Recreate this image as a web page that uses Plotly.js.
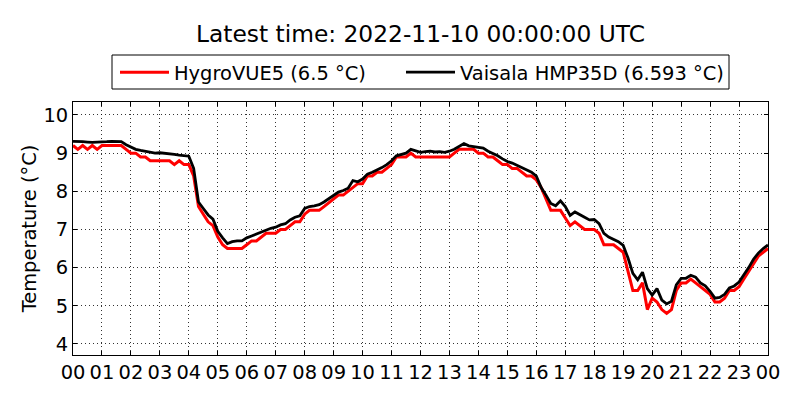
<!DOCTYPE html>
<html>
<head>
<meta charset="utf-8">
<script src="https://cdn.plot.ly/plotly-3.0.1.min.js"></script>
<style>html,body{margin:0;padding:0;background:#fff;}#chart{width:800px;height:400px;}</style>
</head>
<body>
<div id="chart"></div>
<script>
// 10-minute samples, 2022-11-09 00:00 .. 2022-11-10 00:00 UTC
var startTime = "2022-11-09T00:00:00Z";
var stepMinutes = 10;

var hygroName = "HygroVUE5 (6.5 °C)";
var vaisalaName = "Vaisala HMP35D (6.593 °C)";

var hygroVUE5 = [
 9.2,9.1,9.2,9.1,9.2,9.1,
 9.2,9.2,9.2,9.2,9.2,9.1,
 9.0,9.0,8.9,8.9,8.8,8.8,
 8.8,8.8,8.8,8.7,8.8,8.7,
 8.7,8.4,7.6,7.4,7.2,7.1,
 6.8,6.6,6.5,6.5,6.5,6.5,
 6.6,6.7,6.7,6.8,6.9,6.9,
 6.9,7.0,7.0,7.1,7.2,7.2,
 7.4,7.5,7.5,7.5,7.6,7.7,
 7.8,7.9,7.9,8.0,8.1,8.2,
 8.2,8.4,8.4,8.5,8.5,8.6,
 8.7,8.9,8.9,8.9,9.0,8.9,
 8.9,8.9,8.9,8.9,8.9,8.9,
 8.9,9.0,9.1,9.1,9.1,9.1,
 9.0,9.0,8.9,8.9,8.8,8.7,
 8.7,8.6,8.6,8.5,8.4,8.4,
 8.3,8.1,7.8,7.5,7.5,7.5,
 7.3,7.1,7.2,7.1,7.0,7.0,
 7.0,6.9,6.6,6.6,6.6,6.5,
 6.4,5.9,5.4,5.4,5.6,4.9,
 5.2,5.1,4.9,4.8,4.9,5.4,
 5.6,5.6,5.7,5.6,5.5,5.4,
 5.3,5.1,5.1,5.2,5.4,5.4,
 5.5,5.7,5.9,6.1,6.3,6.4,
 6.5
];

var vaisalaHMP35D = [
 9.31,9.31,9.30,9.29,9.28,9.29,
 9.29,9.30,9.31,9.31,9.30,9.22,
 9.15,9.10,9.07,9.05,9.04,9.00,
 9.01,9.00,8.98,8.97,8.95,8.93,
 8.92,8.60,7.72,7.55,7.38,7.27,
 6.95,6.78,6.63,6.68,6.70,6.70,
 6.78,6.83,6.88,6.95,7.00,7.03,
 7.06,7.12,7.15,7.25,7.32,7.36,
 7.55,7.60,7.62,7.65,7.72,7.80,
 7.90,7.98,8.02,8.08,8.28,8.25,
 8.32,8.45,8.50,8.55,8.62,8.70,
 8.80,8.93,8.97,9.00,9.10,9.06,
 9.02,9.04,9.05,9.03,9.04,9.02,
 9.05,9.10,9.17,9.25,9.19,9.17,
 9.16,9.13,9.05,9.00,8.93,8.85,
 8.78,8.74,8.68,8.63,8.56,8.50,
 8.40,8.10,7.90,7.68,7.62,7.75,
 7.60,7.37,7.46,7.40,7.32,7.25,
 7.26,7.15,6.90,6.80,6.75,6.68,
 6.58,6.25,5.85,5.68,5.88,5.45,
 5.28,5.45,5.15,5.05,5.12,5.55,
 5.72,5.72,5.80,5.75,5.60,5.52,
 5.38,5.20,5.22,5.30,5.47,5.52,
 5.62,5.80,6.00,6.22,6.38,6.50,
 6.593
];

var titleText = "Latest time: 2022-11-10 00:00:00 UTC";
var yTitle = "Temperature (°C)";
var yTicks = [4,5,6,7,8,9,10];

function buildTimes(n){
  var t0 = new Date(startTime).getTime();
  var out = [];
  for (var i=0;i<n;i++){
    var d = new Date(t0 + i*stepMinutes*60000);
    out.push(d.toISOString().slice(0,19).replace("T"," "));
  }
  return out;
}
var times = buildTimes(vaisalaHMP35D.length);

var font = "DejaVu Sans, sans-serif";
var fs = 19.44;

// plot area geometry in pixels (for placing legend pieces)
var plotL = 73, plotR = 768, plotT = 102, plotB = 355;
function px2x(px){ return (px - plotL) / (plotR - plotL); }
function px2y(py){ return (plotB - py) / (plotB - plotT); }

var traces = [
  {x: times, y: hygroVUE5, name: hygroName, type: "scatter", mode: "lines",
   line: {color: "#ff0000", width: 3}, legend: "legend"},
  {x: times, y: vaisalaHMP35D, name: vaisalaName, type: "scatter", mode: "lines",
   line: {color: "#000000", width: 2.8}, legend: "legend2"}
];

var axisCommon = {
  showline: true, linecolor: "#000", linewidth: 1, mirror: "ticks",
  ticks: "inside", ticklen: 4, tickcolor: "#000", tickwidth: 1,
  showgrid: true, gridcolor: "#000", gridwidth: 0.8, griddash: "1px,3px",
  zeroline: false,
  tickfont: {family: font, size: fs, color: "#000"}
};

var legendCommon = {
  orientation: "h", xanchor: "left", xref: "paper",
  yanchor: "top", yref: "paper", y: px2y(53),
  borderwidth: 0, bgcolor: "rgba(0,0,0,0)",
  font: {family: font, size: fs, color: "#000"},
  itemwidth: 49
};

var layout = {
  width: 800, height: 400,
  paper_bgcolor: "#fff", plot_bgcolor: "#fff",
  margin: {l: plotL, r: 800 - plotR, t: plotT, b: 400 - plotB},
  font: {family: font, color: "#000"},
  title: {text: titleText, font: {family: font, size: 23.33, color: "#000"},
          x: 0.5, xref: "paper", xanchor: "center",
          y: 1 - 34/400, yref: "container", yanchor: "middle"},
  showlegend: true,
  legend: Object.assign({}, legendCommon, {x: px2x(115)}),
  legend2: Object.assign({}, legendCommon, {x: px2x(401)}),
  shapes: [{type: "rect", xref: "paper", yref: "paper", layer: "above",
            x0: px2x(112), x1: px2x(729), y0: px2y(89), y1: px2y(55),
            line: {color: "#000", width: 1}, fillcolor: "rgba(0,0,0,0)"}],
  xaxis: Object.assign({}, axisCommon, {
    type: "date",
    range: ["2022-11-09 00:00:00", "2022-11-10 00:00:00"],
    dtick: 3600000, tick0: "2022-11-09 00:00:00", tickformat: "%H"
  }),
  yaxis: Object.assign({}, axisCommon, {
    range: [3.71, 10.34],
    tickvals: yTicks, ticktext: yTicks.map(String),
    title: {text: yTitle, font: {family: font, size: fs, color: "#000"}, standoff: 1}
  })
};

Plotly.newPlot("chart", traces, layout, {displayModeBar: false, staticPlot: true});
</script>
</body>
</html>
